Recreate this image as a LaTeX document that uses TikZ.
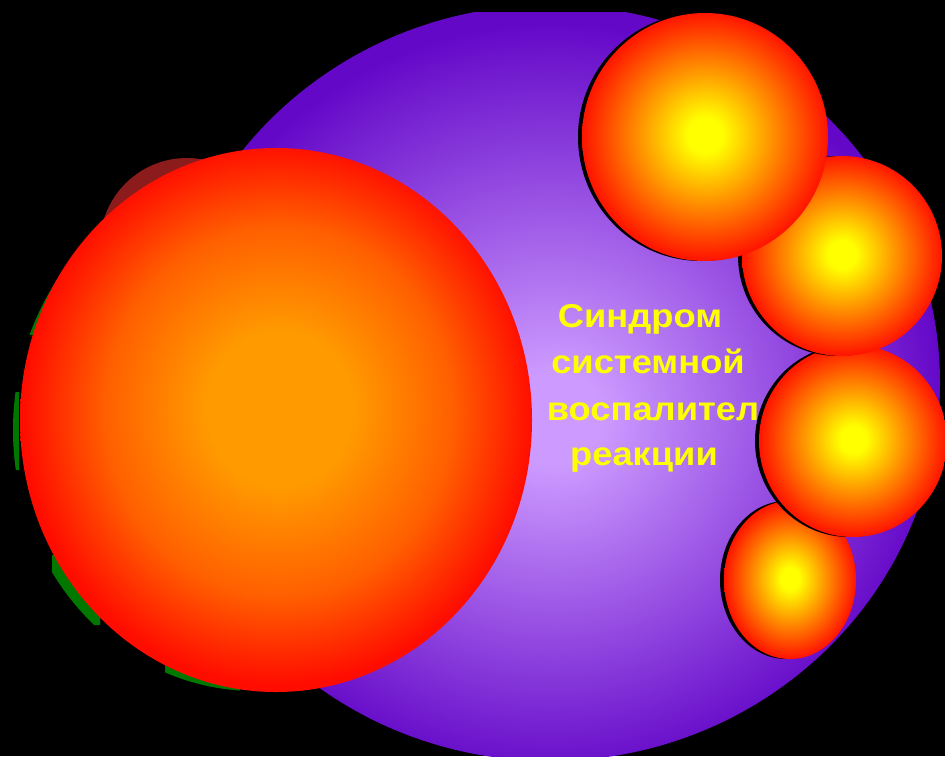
\documentclass[tikz,border=0pt]{standalone}
\usepackage{fontspec}
\setmainfont{Liberation Sans}
\definecolor{purpin}{RGB}{205,155,255}
\definecolor{purpout}{RGB}{100,8,200}
\definecolor{orgin}{RGB}{255,155,0}
\definecolor{orgmid}{RGB}{255,95,0}
\definecolor{redout}{RGB}{255,12,0}
\definecolor{ylwin}{RGB}{255,255,0}
\definecolor{ylwout}{RGB}{255,20,0}
\definecolor{hidgreen}{RGB}{0,120,0}
\definecolor{hidred}{RGB}{140,28,28}
\definecolor{txtyellow}{RGB}{255,255,0}
\pgfdeclareradialshading{purpsh}{\pgfpoint{0.3bp}{-2.5bp}}{color(0bp)=(purpin);color(3bp)=(purpin);color(25bp)=(purpout);color(50bp)=(purpout)}
\pgfdeclareradialshading{redsh}{\pgfpoint{0.4bp}{1.2bp}}{color(0bp)=(orgin);color(7bp)=(orgin);color(17bp)=(orgmid);color(25bp)=(redout);color(50bp)=(redout)}
\pgfdeclareradialshading{ylwsh}{\pgfpoint{0bp}{0.4bp}}{color(0bp)=(ylwin);color(3.5bp)=(ylwin);color(25bp)=(ylwout);color(50bp)=(ylwout)}
\tikzset{
  ball/.style={shading=ylwsh},
  ballshadow/.style={fill=black},
  label/.style={text=txtyellow, font=\fontsize{33}{38}\selectfont\bfseries, anchor=base, inner sep=0pt, xscale=1.1}
}
\begin{document}
\begin{tikzpicture}[x=1pt,y=-1pt]
\useasboundingbox (0,0) rectangle (945,756);
\fill[black] (0,0) rectangle (945,756);
\begin{scope}
\clip (0,12) rectangle (945,756);
% hidden shapes behind the large one
\begin{scope}
\clip (0,262) rectangle (58,335) (0,392) rectangle (19,470) (52,555) rectangle (100,625) (165,655) rectangle (240,700);
\fill[hidgreen] (255,430) ellipse [x radius=242, y radius=261];
\end{scope}
\fill[hidred] (187,245) circle [radius=87];
% purple circle
\shade[shading=purpsh] (550,383) ellipse [x radius=390, y radius=378];
% text
\node[label] (l1) at (640,327) {Синдром};
\node[label] (l2) at (648,373) {системной};
\node[label] (l3) at (653,420) {воспалител};
\node[label] (l4) at (644,465) {реакции};
% large red circle
\shade[shading=redsh] (276,420) ellipse [x radius=256, y radius=272];
% small circles
\fill[ballshadow] (786,580) ellipse [x radius=66, y radius=79];
\shade[ball] (790,580) ellipse [x radius=66, y radius=79];
\fill[ballshadow] (849,441) ellipse [x radius=94, y radius=96];
\shade[ball] (853,441) ellipse [x radius=94, y radius=96];
\fill[ballshadow] (838,256) circle [radius=100];
\shade[ball] (842,256) circle [radius=100];
\fill[ballshadow] (701,137) ellipse [x radius=123, y radius=124];
\shade[ball] (705,137) ellipse [x radius=123, y radius=124];
\end{scope}
\end{tikzpicture}
\end{document}
